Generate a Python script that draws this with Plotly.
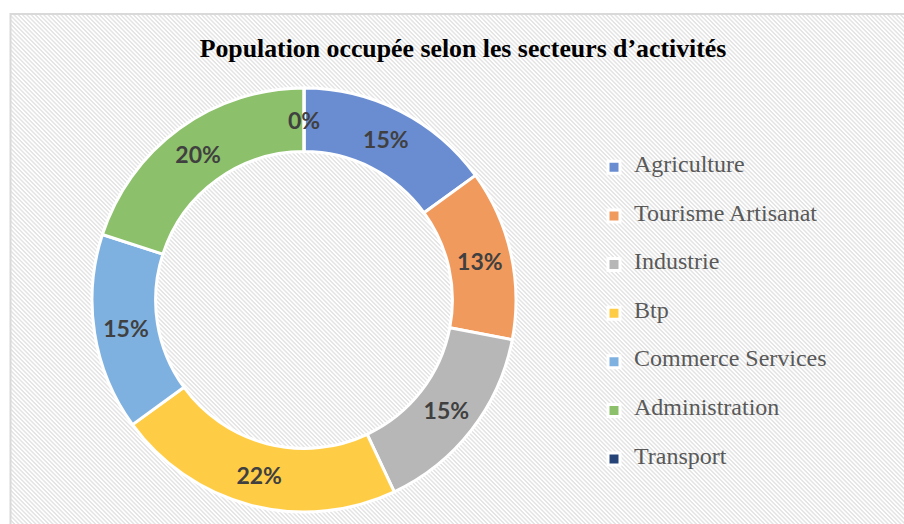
import base64
import math
import plotly.graph_objects as go

# ---- data ----
categories = ["Agriculture", "Tourisme Artisanat", "Industrie", "Btp",
              "Commerce Services", "Administration", "Transport"]
shares = [15, 13, 15, 22, 15, 20, 0]
colors = ["#6a8dd1", "#f09a5e", "#b7b7b7", "#ffcd45",
          "#7fb1e0", "#8cc06a", "#264478"]
title_text = "Population occupée selon les secteurs d’activités"

W, H = 904, 524

# hatched background as an SVG pattern
svg = (
    '<svg xmlns="http://www.w3.org/2000/svg" width="900" height="520" '
    'viewBox="0 0 900 520" preserveAspectRatio="none">'
    '<defs><pattern id="p" width="3" height="3" patternUnits="userSpaceOnUse" '
    'patternTransform="rotate(45)">'
    '<rect x="0" y="0" width="3" height="3" fill="#ffffff"/>'
    '<rect x="0" y="0" width="3" height="1.4" fill="#e3e3e3"/>'
    '</pattern></defs>'
    '<rect width="900" height="520" fill="url(#p)"/></svg>'
)
src = "data:image/svg+xml;base64," + base64.b64encode(svg.encode()).decode()

# legend labels padded to reproduce the wide spacing of the original legend
legend_labels = ["<br><span style='font-size:24px'>%s</span><br> " % c for c in categories]

cx, cy, r, hole = 304, 300, 212, 0.70
label_font = dict(family="Lato", size=23, color="#404040", weight="bold")

fig = go.Figure(go.Pie(
    labels=legend_labels,
    values=shares,
    sort=False,
    direction="clockwise",
    rotation=0,
    hole=hole,
    marker=dict(colors=colors, line=dict(color="white", width=3)),
    textinfo="percent",
    texttemplate="%{percent:.0%}",
    textposition="inside",
    insidetextorientation="horizontal",
    textfont=label_font,
    hoverinfo="label+percent",
    domain=dict(x=[(cx - r) / W, (cx + r) / W],
                y=[(H - cy - r) / H, (H - cy + r) / H]),
))

# zero-valued slices are not drawn by plotly: put their labels at the ring position
total = sum(shares)
annotations = []
cum = 0
for v in shares:
    if v == 0:
        a = 2 * math.pi * (cum + v / 2) / total
        rm = r * (1 + hole) / 2
        px = cx + rm * math.sin(a)
        py = cy - rm * math.cos(a)
        annotations.append(dict(text="%d%%" % round(100 * v / total),
                                x=px / W, y=(H - py) / H, xref="paper", yref="paper",
                                showarrow=False, font=label_font,
                                xanchor="center", yanchor="middle"))
    cum += v

fig.update_layout(
    width=W, height=H,
    margin=dict(l=0, r=0, t=0, b=0),
    paper_bgcolor="white",
    title=dict(text="<b>" + title_text + "</b>", x=463 / W, xanchor="center",
               y=1 - 48 / H, yanchor="middle",
               font=dict(family="Liberation Serif", size=25.8, color="#000000")),
    legend=dict(x=594 / W, xanchor="left", y=1 - 138 / H, yanchor="top",
                font=dict(family="Liberation Serif", size=11.7, color="#595959"),
                bgcolor="rgba(0,0,0,0)"),
    annotations=annotations,
    images=[dict(source=src, xref="paper", yref="paper",
                 x=11 / W, y=1 - 15 / H, sizex=1, sizey=1,
                 sizing="stretch", layer="below", xanchor="left", yanchor="top")],
    shapes=[dict(type="rect", xref="paper", yref="paper",
                 x0=10.5 / W, x1=1.02, y0=-0.02, y1=1 - 14 / H,
                 line=dict(color="#d9d9d9", width=2), layer="below")],
)

fig.write_html("out.html")
